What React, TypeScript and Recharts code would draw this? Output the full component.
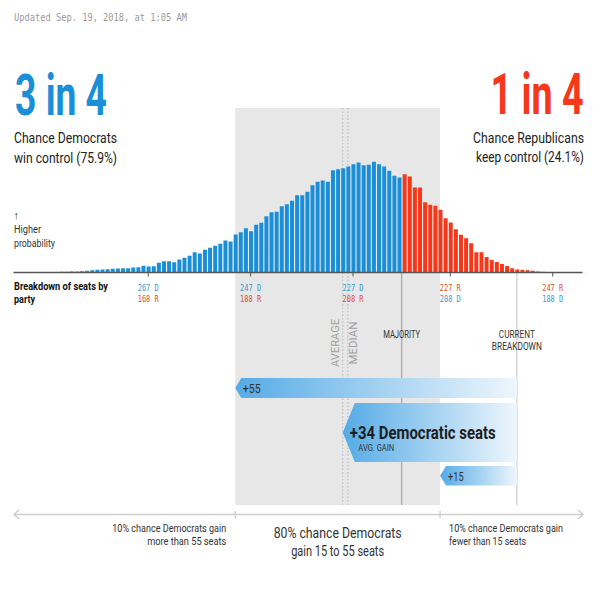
import React from 'react';
import { ComposedChart, Bar, Cell, XAxis, YAxis, ReferenceArea, ReferenceLine } from 'recharts';

// ---------- DATA ----------
const demSeats = [
  293, 292, 291, 290, 289, 288, 287, 286, 285, 284, 283, 282, 281, 280, 279, 278,
  277, 276, 275, 274, 273, 272, 271, 270, 269, 268, 267, 266, 265, 264, 263, 262,
  261, 260, 259, 258, 257, 256, 255, 254, 253, 252, 251, 250, 249, 248, 247, 246,
  245, 244, 243, 242, 241, 240, 239, 238, 237, 236, 235, 234, 233, 232, 231, 230,
  229, 228, 227, 226, 225, 224, 223, 222, 221, 220, 219, 218, 217, 216, 215, 214,
  213, 212, 211, 210, 209, 208, 207, 206, 205, 204, 203, 202, 201, 200, 199, 198,
  197, 196, 195, 194, 193, 192, 191, 190, 189, 188, 187, 186, 185, 184, 183, 182,
];
// probability (%) of each Democratic seat total
const probability = [
  0.005, 0.005, 0.007, 0.007, 0.01, 0.01, 0.012, 0.012, 0.015, 0.017, 0.02, 0.022, 0.025, 0.032, 0.042, 0.057,
  0.066, 0.074, 0.081, 0.091, 0.099, 0.106, 0.106, 0.123, 0.131, 0.165, 0.148, 0.155, 0.239, 0.278, 0.278, 0.254,
  0.32, 0.362, 0.411, 0.5, 0.468, 0.559, 0.608, 0.658, 0.707, 0.788, 0.764, 0.936, 0.993, 1.091, 1.017, 1.175,
  1.224, 1.387, 1.485, 1.495, 1.633, 1.682, 1.766, 1.904, 1.904, 1.988, 2.15, 2.234, 2.266, 2.234, 2.52, 2.544,
  2.569, 2.611, 2.667, 2.709, 2.643, 2.653, 2.727, 2.667, 2.611, 2.505, 2.382, 2.34, 2.421, 2.364, 2.094, 2.094,
  1.732, 1.667, 1.643, 1.544, 1.337, 1.232, 1.066, 0.929, 0.845, 0.722, 0.5, 0.5, 0.382, 0.308, 0.259, 0.209,
  0.16, 0.106, 0.074, 0.066, 0.057, 0.042, 0.025, 0.017, 0.012, 0.01, 0.007, 0.007, 0.005, 0.005, 0.005, 0.002,
];
const tickSeats = [267, 247, 227, 208, 188];
const TOTAL_SEATS = 435;
const MAJORITY = 218;
const CURRENT_DEM = 195;
const AVG_GAIN = 34;
const MEDIAN_GAIN = 33;
const LOW_GAIN = 15;
const HIGH_GAIN = 55;
const DEM_CHANCE = '75.9%';
const REP_CHANCE = '24.1%';
const UPDATED = 'Updated Sep. 19, 2018, at 1:05 AM';

const data = demSeats.map((s, i) => ({ seats: s, prob: probability[i] }));

// ---------- LAYOUT / STYLE ----------
const W = 607;
const H = 599;
const PLOT_TOP = 108;
const PLOT_BOTTOM = 515;
const BAND_BOTTOM = 505;
const BASE_Y = 272.5;
const PX_PER_UNIT = 40.6;
const Y_MAX = (BASE_Y - PLOT_TOP) / PX_PER_UNIT;
const Y_MIN = -(PLOT_BOTTOM - BASE_Y) / PX_PER_UNIT;
const X_DOMAIN = [181.5, 293.5];

const SANS = "Roboto, 'Liberation Sans', Arial, sans-serif";
const MONO = "'DejaVu Sans Mono', 'Liberation Mono', monospace";
const BLUE = '#1a8fd8';
const RED = '#f5371a';
const BLUE_T = '#3a9ad0';
const RED_T = '#e04a30';
const TXT = '#222';

type TProps = {
  x: number; y: number; w?: number; size: number; children: React.ReactNode;
  anchor?: 'start' | 'middle' | 'end'; fill?: string; weight?: number | string; family?: string;
};
// text with a fixed rendered width; anchored positions are converted to a start x
const T = ({ x, y, w, size, children, anchor = 'start', fill = TXT, weight = 400, family = SANS }: TProps) => {
  let sx = x;
  let a: 'start' | 'middle' | 'end' = anchor;
  if (w) {
    if (anchor === 'end') sx = x - w;
    if (anchor === 'middle') sx = x - w / 2;
    a = 'start';
  }
  return (
    <text
      x={sx}
      y={y}
      fontSize={size}
      fontFamily={family}
      fontWeight={weight}
      fill={fill}
      textAnchor={a}
      {...(w ? { textLength: w, lengthAdjust: 'spacingAndGlyphs' } : {})}
    >
      {children}
    </text>
  );
};

const SeatTick = (props: any) => {
  const { x, payload } = props;
  const d = payload.value as number;
  const r = TOTAL_SEATS - d;
  const demFirst = d >= MAJORITY;
  const l1 = demFirst ? `${d} D` : `${r} R`;
  const l2 = demFirst ? `${r} R` : `${d} D`;
  return (
    <g>
      <line x1={x} x2={x} y1={BASE_Y} y2={BASE_Y + 4} stroke="#555" strokeWidth={1} />
      <T x={x} y={291} size={8.5} w={21} anchor="middle" family={MONO} fill={demFirst ? BLUE_T : RED_T}>{l1}</T>
      <T x={x} y={302} size={8.5} w={21} anchor="middle" family={MONO} fill={demFirst ? RED_T : BLUE_T}>{l2}</T>
    </g>
  );
};

const bandShape = (p: any) => {
  const x0 = p.x;
  const x1 = p.x + p.width;
  const cx = (x0 + x1) / 2;
  return (
    <g>
      <rect x={x0} y={PLOT_TOP} width={p.width} height={BAND_BOTTOM - PLOT_TOP} fill="#e7e7e7" />
      <line x1={x0} x2={x0} y1={511} y2={518} stroke="#c8c8c8" strokeWidth={1.2} />
      <line x1={x1} x2={x1} y1={511} y2={518} stroke="#c8c8c8" strokeWidth={1.2} />
      <T x={x0 - 9} y={532} size={11} w={114} anchor="end" fill="#333">10% chance Democrats gain</T>
      <T x={x0 - 9} y={545} size={11} w={79} anchor="end" fill="#333">{`more than ${HIGH_GAIN} seats`}</T>
      <T x={cx} y={537.5} size={15.5} w={128} anchor="middle" fill="#333">80% chance Democrats</T>
      <T x={cx} y={556} size={15.5} w={93} anchor="middle" fill="#333">{`gain ${LOW_GAIN} to ${HIGH_GAIN} seats`}</T>
      <T x={x1 + 9} y={532} size={11} w={114} fill="#333">10% chance Democrats gain</T>
      <T x={x1 + 9} y={545} size={11} w={77} fill="#333">{`fewer than ${LOW_GAIN} seats`}</T>
    </g>
  );
};

const avgMedianShape = (p: any) => {
  const xa = p.x;
  const xm = p.x + p.width;
  const cy = 343;
  return (
    <g>
      <line x1={xa} x2={xa} y1={PLOT_TOP} y2={BAND_BOTTOM} stroke="#b5b5b5" strokeDasharray="1.5 2" strokeWidth={1} />
      <line x1={xm} x2={xm} y1={PLOT_TOP} y2={BAND_BOTTOM} stroke="#b5b5b5" strokeDasharray="1.5 2" strokeWidth={1} />
      <g transform={`translate(${xa - 4} ${cy}) rotate(-90)`}>
        <T x={0} y={0} size={10} w={48} anchor="middle" fill="#a0a0a0">AVERAGE</T>
      </g>
      <g transform={`translate(${xm + 9} ${cy}) rotate(-90)`}>
        <T x={0} y={0} size={10} w={43} anchor="middle" fill="#a0a0a0">MEDIAN</T>
      </g>
    </g>
  );
};

const majorityCurrentShape = (p: any) => {
  const xmj = p.x;
  const xc = p.x + p.width;
  return (
    <g>
      <line x1={xmj} x2={xmj} y1={BASE_Y} y2={BAND_BOTTOM} stroke="#b0b0b0" strokeWidth={1.5} />
      <line x1={xc} x2={xc} y1={BASE_Y} y2={BAND_BOTTOM} stroke="#d6d6d6" strokeWidth={1.5} />
      <T x={xmj} y={338} size={10} w={37} anchor="middle" fill="#333">MAJORITY</T>
      <T x={xc} y={338} size={10} w={36} anchor="middle" fill="#333">CURRENT</T>
      <T x={xc} y={349.5} size={10} w={50} anchor="middle" fill="#333">BREAKDOWN</T>
    </g>
  );
};

const makeArrow = (id: string, top: number, h: number, notch: number, label: (tip: number) => React.ReactNode) => (p: any) => {
  const tip = p.x;
  const right = p.x + p.width;
  const mid = top + h / 2;
  const pts = `${tip},${mid} ${tip + notch},${top} ${right},${top} ${right},${top + h} ${tip + notch},${top + h}`;
  return (
    <g>
      <defs>
        <linearGradient id={id} x1="0" x2="1" y1="0" y2="0">
          <stop offset="0" stopColor="#55abe6" />
          <stop offset="0.55" stopColor="#a9d4f2" />
          <stop offset="1" stopColor="#eef6fc" />
        </linearGradient>
      </defs>
      <polygon points={pts} fill={`url(#${id})`} />
      {label(tip)}
    </g>
  );
};

const arrowHigh = makeArrow('gHigh', 378, 20, 6, (tip) => (
  <T x={tip + 7.5} y={393} size={13} w={18} fill="#333">{`+${HIGH_GAIN}`}</T>
));
const arrowAvg = makeArrow('gAvg', 403, 59, 12, (tip) => (
  <g>
    <T x={tip + 7} y={438.5} size={17.5} w={146} weight={700} fill="#1e1e1e">{`+${AVG_GAIN} Democratic seats`}</T>
    <T x={tip + 15.5} y={450.5} size={9.5} w={36} fill="#333">AVG. GAIN</T>
  </g>
));
const arrowLow = makeArrow('gLow', 466, 19.5, 6, (tip) => (
  <T x={tip + 8} y={480.5} size={13} w={15.5} fill="#333">{`+${LOW_GAIN}`}</T>
));

export default function App() {
  return (
    <div style={{ position: 'absolute', left: 0, top: 0, width: W, height: H, background: '#fff' }}>
      <div style={{ position: 'absolute', left: 0, top: 0 }}>
        <ComposedChart
          width={W}
          height={H}
          data={data}
          margin={{ top: PLOT_TOP, right: W - 586, bottom: 64, left: 12.5 }}
        >
          <XAxis
            dataKey="seats"
            type="number"
            domain={X_DOMAIN}
            reversed
            allowDataOverflow
            ticks={tickSeats}
            interval={0}
            height={20}
            axisLine={false}
            tickLine={false}
            tick={<SeatTick />}
          />
          <YAxis hide type="number" domain={[Y_MIN, Y_MAX]} allowDataOverflow />
          <ReferenceArea x1={CURRENT_DEM + HIGH_GAIN} x2={CURRENT_DEM + LOW_GAIN} shape={bandShape} />
          <ReferenceArea x1={CURRENT_DEM + AVG_GAIN} x2={CURRENT_DEM + MEDIAN_GAIN} shape={avgMedianShape} />
          <Bar dataKey="prob" barSize={4} isAnimationActive={false}>
            {data.map((d) => (
              <Cell key={d.seats} fill={d.seats >= MAJORITY ? BLUE : RED} />
            ))}
          </Bar>
          <ReferenceLine
            segment={[{ x: 293.3, y: 0 }, { x: 182.2, y: 0 }]}
            stroke="#555"
            strokeWidth={1.5}
          />
          <ReferenceArea x1={MAJORITY - 0.5} x2={CURRENT_DEM} shape={majorityCurrentShape} />
          <ReferenceArea x1={CURRENT_DEM + HIGH_GAIN} x2={CURRENT_DEM} shape={arrowHigh} />
          <ReferenceArea x1={CURRENT_DEM + AVG_GAIN} x2={CURRENT_DEM} shape={arrowAvg} />
          <ReferenceArea x1={CURRENT_DEM + LOW_GAIN} x2={CURRENT_DEM} shape={arrowLow} />
        </ComposedChart>
      </div>
      <svg width={W} height={H} style={{ position: 'absolute', left: 0, top: 0, pointerEvents: 'none' }}>
        <T x={14} y={21} size={10.5} w={173} family={MONO} fill="#9a9a9a">{UPDATED}</T>
        <g transform="translate(15 115) scale(1 1.3)">
          <T x={0} y={0} size={44} w={92} weight={700} fill={BLUE}>3 in 4</T>
        </g>
        <T x={14} y={143} size={14.5} w={103}>Chance Democrats</T>
        <T x={14} y={162.5} size={14.5} w={103}>{`win control (${DEM_CHANCE})`}</T>
        <g transform="translate(490.5 113.5) scale(1 1.3)">
          <T x={0} y={0} size={44} w={93} weight={700} fill={RED}>1 in 4</T>
        </g>
        <T x={584} y={143} size={14.5} w={111} anchor="end">Chance Republicans</T>
        <T x={584} y={162} size={14.5} w={108} anchor="end">{`keep control (${REP_CHANCE})`}</T>
        <T x={13.5} y={219} size={11} fill="#333">↑</T>
        <T x={14} y={233} size={11} w={27} fill="#333">Higher</T>
        <T x={14} y={246.5} size={11} w={41} fill="#333">probability</T>
        <T x={14} y={290} size={11} w={94} weight={700} fill="#111">Breakdown of seats by</T>
        <T x={14} y={302.5} size={11} w={21} weight={700} fill="#111">party</T>
        <line x1={14} x2={583} y1={514.5} y2={514.5} stroke="#cfcfcf" strokeWidth={1.5} />
        <polyline points="19,510 14,514.5 19,519" fill="none" stroke="#cfcfcf" strokeWidth={1.5} />
        <polyline points="578,510 583,514.5 578,519" fill="none" stroke="#cfcfcf" strokeWidth={1.5} />
      </svg>
    </div>
  );
}
